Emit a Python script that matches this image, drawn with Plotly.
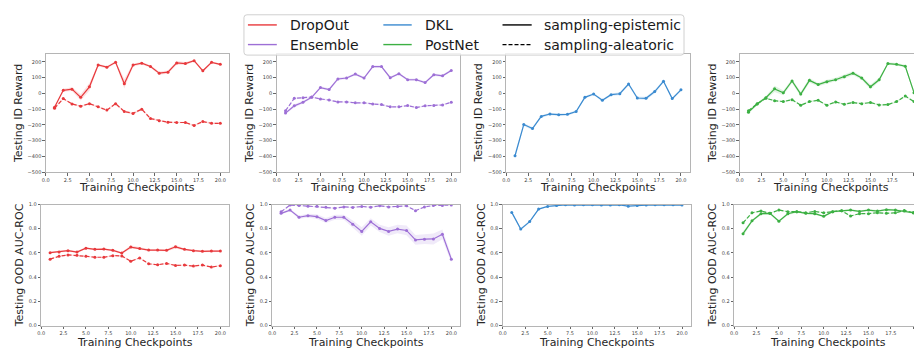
import plotly.graph_objects as go

W, H = 914, 352

checkpoints = list(range(1, 21))

# ---- Testing ID Reward ----
dropout_id_epistemic = [-88, 20, 27, -25, 42, 181, 167, 198, 62, 181, 192, 171, 129, 135, 194, 190, 208, 144, 198, 185]
dropout_id_epistemic_sd = [8, 10, 12, 20, 25, 8, 8, 8, 30, 10, 8, 8, 10, 10, 12, 10, 6, 8, 6, 6]
dropout_id_aleatoric = [-94, -33, -67, -81, -65, -85, -106, -65, -115, -127, -100, -160, -173, -183, -185, -185, -204, -179, -190, -190]
dropout_id_aleatoric_sd = [5, 5, 5, 5, 5, 5, 5, 5, 5, 8, 5, 5, 5, 5, 5, 5, 5, 5, 5, 5]

ensemble_id_epistemic = [-125, -79, -56, -25, 37, 25, 92, 98, 123, 98, 171, 171, 100, 125, 87, 87, 69, 119, 112, 146]
ensemble_id_epistemic_sd = [8, 10, 10, 8, 8, 8, 10, 8, 8, 8, 8, 8, 8, 8, 8, 8, 8, 8, 8, 8]
ensemble_id_aleatoric = [-110, -31, -27, -23, -35, -42, -54, -54, -60, -60, -67, -71, -85, -85, -77, -90, -79, -77, -73, -56]
ensemble_id_aleatoric_sd = [5, 5, 5, 5, 5, 5, 5, 5, 5, 5, 5, 5, 5, 5, 5, 5, 5, 5, 5, 5]

dkl_id_epistemic = [-396, -198, -223, -146, -131, -135, -133, -115, -25, -4, -44, -8, -2, 60, -29, -31, 12, 77, -33, 23]
dkl_id_epistemic_sd = [20, 10, 10, 8, 8, 8, 8, 8, 8, 8, 8, 8, 10, 10, 10, 10, 12, 8, 8, 8]

postnet_id_epistemic = [-119, -67, -27, 29, 4, 79, -4, 83, 56, 75, 87, 106, 129, 98, 42, 87, 190, 185, 173, 5]
postnet_id_epistemic_sd = [8, 8, 10, 20, 15, 12, 15, 15, 10, 12, 12, 12, 12, 12, 15, 12, 8, 8, 10, 10]
postnet_id_aleatoric = [-110, -65, -31, -46, -52, -40, -75, -52, -44, -75, -54, -69, -58, -65, -58, -73, -71, -52, -17, -52]
postnet_id_aleatoric_sd = [5, 5, 5, 5, 5, 5, 5, 5, 5, 5, 5, 5, 5, 5, 5, 5, 5, 5, 5, 5]

# ---- Testing OOD AUC-ROC ----
dropout_ood_epistemic = [0.603, 0.608, 0.619, 0.608, 0.640, 0.630, 0.632, 0.622, 0.600, 0.649, 0.638, 0.624, 0.624, 0.622, 0.651, 0.630, 0.619, 0.614, 0.616, 0.616]
dropout_ood_epistemic_sd = [0.008, 0.008, 0.008, 0.008, 0.008, 0.008, 0.008, 0.008, 0.008, 0.015, 0.008, 0.008, 0.008, 0.008, 0.015, 0.008, 0.008, 0.008, 0.008, 0.008]
dropout_ood_aleatoric = [0.549, 0.573, 0.584, 0.581, 0.573, 0.565, 0.565, 0.578, 0.576, 0.532, 0.559, 0.511, 0.503, 0.514, 0.497, 0.500, 0.492, 0.500, 0.484, 0.495]
dropout_ood_aleatoric_sd = [0.005, 0.005, 0.005, 0.005, 0.005, 0.005, 0.005, 0.005, 0.005, 0.005, 0.005, 0.005, 0.005, 0.005, 0.005, 0.005, 0.005, 0.005, 0.005, 0.005]

ensemble_ood_epistemic = [0.927, 0.954, 0.895, 0.908, 0.900, 0.868, 0.895, 0.895, 0.838, 0.778, 0.857, 0.803, 0.778, 0.797, 0.786, 0.708, 0.714, 0.716, 0.754, 0.549]
ensemble_ood_epistemic_sd = [0.01, 0.01, 0.015, 0.015, 0.02, 0.02, 0.02, 0.02, 0.03, 0.035, 0.03, 0.03, 0.035, 0.035, 0.04, 0.04, 0.04, 0.045, 0.04, 0.03]
ensemble_ood_aleatoric = [0.940, 0.995, 0.992, 0.986, 0.986, 0.978, 0.970, 0.980, 0.976, 0.984, 0.978, 0.989, 0.980, 0.984, 0.989, 0.949, 0.980, 0.992, 0.992, 0.995]
ensemble_ood_aleatoric_sd = [0.005, 0.004, 0.004, 0.004, 0.004, 0.004, 0.004, 0.004, 0.004, 0.004, 0.004, 0.004, 0.004, 0.004, 0.004, 0.006, 0.004, 0.004, 0.004, 0.004]

dkl_ood_epistemic = [0.935, 0.797, 0.859, 0.962, 0.984, 0.992, 0.997, 0.995, 0.997, 0.997, 0.995, 0.995, 0.997, 0.986, 0.992, 0.995, 0.997, 0.997, 0.997, 0.995]
dkl_ood_epistemic_sd = [0.01, 0.012, 0.01, 0.006, 0.004, 0.003, 0.002, 0.002, 0.002, 0.002, 0.002, 0.002, 0.002, 0.004, 0.003, 0.002, 0.002, 0.002, 0.002, 0.002]

postnet_ood_epistemic = [0.759, 0.865, 0.924, 0.927, 0.862, 0.924, 0.941, 0.927, 0.924, 0.903, 0.941, 0.949, 0.954, 0.943, 0.954, 0.946, 0.957, 0.954, 0.946, 0.932]
postnet_ood_epistemic_sd = [0.02, 0.012, 0.01, 0.01, 0.01, 0.01, 0.008, 0.008, 0.008, 0.008, 0.008, 0.008, 0.008, 0.008, 0.008, 0.008, 0.008, 0.008, 0.008, 0.008]
postnet_ood_aleatoric = [0.849, 0.932, 0.946, 0.927, 0.954, 0.941, 0.941, 0.932, 0.943, 0.932, 0.941, 0.949, 0.905, 0.924, 0.924, 0.932, 0.927, 0.932, 0.951, 0.932]
postnet_ood_aleatoric_sd = [0.006, 0.005, 0.005, 0.005, 0.005, 0.005, 0.005, 0.005, 0.005, 0.005, 0.005, 0.005, 0.005, 0.005, 0.005, 0.005, 0.005, 0.005, 0.005, 0.005]

method_names = ["DropOut", "Ensemble", "DKL", "PostNet"]
method_colors = {"DropOut": "#e8393c", "Ensemble": "#9d6fd6", "DKL": "#3a8ad0", "PostNet": "#3cb043"}
band_colors = {"DropOut": "rgba(232,57,60,0.15)", "Ensemble": "rgba(157,111,214,0.15)",
               "DKL": "rgba(58,138,208,0.15)", "PostNet": "rgba(60,176,67,0.15)"}
style_names = ["sampling-epistemic", "sampling-aleatoric"]
y_titles = ["Testing ID Reward", "Testing OOD AUC-ROC"]
x_title = "Training Checkpoints"

panels = [
    ("DropOut", [(dropout_id_epistemic, dropout_id_epistemic_sd, "solid"), (dropout_id_aleatoric, dropout_id_aleatoric_sd, "dash")]),
    ("Ensemble", [(ensemble_id_epistemic, ensemble_id_epistemic_sd, "solid"), (ensemble_id_aleatoric, ensemble_id_aleatoric_sd, "dash")]),
    ("DKL", [(dkl_id_epistemic, dkl_id_epistemic_sd, "solid")]),
    ("PostNet", [(postnet_id_epistemic, postnet_id_epistemic_sd, "solid"), (postnet_id_aleatoric, postnet_id_aleatoric_sd, "dash")]),
    ("DropOut", [(dropout_ood_epistemic, dropout_ood_epistemic_sd, "solid"), (dropout_ood_aleatoric, dropout_ood_aleatoric_sd, "dash")]),
    ("Ensemble", [(ensemble_ood_epistemic, ensemble_ood_epistemic_sd, "solid"), (ensemble_ood_aleatoric, ensemble_ood_aleatoric_sd, "dash")]),
    ("DKL", [(dkl_ood_epistemic, dkl_ood_epistemic_sd, "solid")]),
    ("PostNet", [(postnet_ood_epistemic, postnet_ood_epistemic_sd, "solid"), (postnet_ood_aleatoric, postnet_ood_aleatoric_sd, "dash")]),
]

# layout geometry in pixels (left, right) / (top, bottom)
x_px = [(42, 226), (274, 458), (504.5, 688.7), (739, 914),
        (37.3, 226.3), (269.3, 458.3), (501, 690), (733.3, 914)]
x_ranges = [[0, 21], [0, 21], [0, 21], [0, 20.0],
            [0, 21], [0, 21], [0, 21], [0, 20.08]]
y_px = [(52, 172), (205, 328.3)]
y_title_off = [28, 22]
x_title_y = [188, 345]

FONT = "DejaVu Sans"
DASH = "4px,2px"

fig = go.Figure()


def px2x(v):
    return v / W


def px2y(v):
    return 1 - v / H


for i, (method, series) in enumerate(panels):
    k = i + 1
    xa = "x" if k == 1 else f"x{k}"
    ya = "y" if k == 1 else f"y{k}"
    color = method_colors[method]
    for vals, sd, dash in series:
        upper = [v + s for v, s in zip(vals, sd)]
        lower = [v - s for v, s in zip(vals, sd)]
        fig.add_trace(go.Scatter(x=checkpoints, y=upper, mode="lines", line=dict(width=0),
                                 hoverinfo="skip", showlegend=False, xaxis=xa, yaxis=ya))
        fig.add_trace(go.Scatter(x=checkpoints, y=lower, mode="lines", line=dict(width=0),
                                 fill="tonexty", fillcolor=band_colors[method],
                                 hoverinfo="skip", showlegend=False, xaxis=xa, yaxis=ya))
    for vals, sd, dash in series:
        fig.add_trace(go.Scatter(x=checkpoints, y=vals, mode="lines+markers",
                                 line=dict(color=color, width=1.2, dash=("solid" if dash == "solid" else DASH)),
                                 marker=dict(color=color, size=3),
                                 showlegend=False, xaxis=xa, yaxis=ya))

layout = dict(width=W, height=H, margin=dict(l=0, r=0, t=0, b=0),
              paper_bgcolor="white", plot_bgcolor="white",
              font=dict(family=FONT, color="#262626"), showlegend=False)

axis_common = dict(showgrid=False, zeroline=False, showline=True, linecolor="#b5b5b5", linewidth=1,
                   ticks="outside", ticklen=2.5, tickwidth=0.8, tickcolor="#666",
                   tickfont=dict(size=5, color="#444", family=FONT))

annotations = []
for i in range(8):
    k = i + 1
    row = 0 if i < 4 else 1
    xl, xr = x_px[i]
    yt, yb = y_px[row]
    xname = "xaxis" if k == 1 else f"xaxis{k}"
    yname = "yaxis" if k == 1 else f"yaxis{k}"
    anchor_x = "x" if k == 1 else f"x{k}"
    anchor_y = "y" if k == 1 else f"y{k}"
    layout[xname] = dict(axis_common, domain=[px2x(xl), min(1.0, px2x(xr))], range=x_ranges[i],
                         anchor=anchor_y, tick0=0, dtick=2.5, tickformat=".1f", mirror=True)
    if row == 0:
        yopts = dict(range=[-500, 250], tick0=-500, dtick=100, tickformat="d")
    else:
        yopts = dict(range=[0, 1.0], tick0=0, dtick=0.2, tickformat=".1f")
    layout[yname] = dict(axis_common, domain=[px2y(yb), px2y(yt)], anchor=anchor_x,
                         mirror=(i % 4 != 3), **yopts)
    annotations.append(dict(x=px2x(xl - y_title_off[row]), y=px2y((yt + yb) / 2), xref="paper", yref="paper",
                            text=y_titles[row], textangle=-90, showarrow=False,
                            xanchor="center", yanchor="middle",
                            font=dict(size=11, family=FONT, color="#262626")))
    annotations.append(dict(x=px2x((xl + (xl + (xr - xl) if i % 4 != 3 else xl + (x_px[i - 1][1] - x_px[i - 1][0]))) / 2),
                            y=px2y(x_title_y[row]), xref="paper", yref="paper",
                            text=x_title, showarrow=False, xanchor="center", yanchor="middle",
                            font=dict(size=11, family=FONT, color="#262626")))

# ---- manual legend ----
shapes = []
lx0, lx1, ly0, ly1, r = 241, 683, 12, 53, 3
path = (f"M {px2x(lx0 + r)} {px2y(ly0)} L {px2x(lx1 - r)} {px2y(ly0)} Q {px2x(lx1)} {px2y(ly0)} {px2x(lx1)} {px2y(ly0 + r)} "
        f"L {px2x(lx1)} {px2y(ly1 - r)} Q {px2x(lx1)} {px2y(ly1)} {px2x(lx1 - r)} {px2y(ly1)} "
        f"L {px2x(lx0 + r)} {px2y(ly1)} Q {px2x(lx0)} {px2y(ly1)} {px2x(lx0)} {px2y(ly1 - r)} "
        f"L {px2x(lx0)} {px2y(ly0 + r)} Q {px2x(lx0)} {px2y(ly0)} {px2x(lx0 + r)} {px2y(ly0)} Z")
shapes.append(dict(type="path", path=path, xref="paper", yref="paper", layer="above",
                   fillcolor="rgba(255,255,255,0.8)", line=dict(color="#d0d0d0", width=1)))

legend_items = [
    ("DropOut", method_colors["DropOut"], "solid", 0, 0),
    ("Ensemble", method_colors["Ensemble"], "solid", 0, 1),
    ("DKL", method_colors["DKL"], "solid", 1, 0),
    ("PostNet", method_colors["PostNet"], "solid", 1, 1),
    (style_names[0], "#000000", "solid", 2, 0),
    (style_names[1], "#000000", DASH, 2, 1),
]
col_line_x = [(245, 274), (381, 409.5), (500.7, 530)]
col_text_x = [285, 421, 540.7]
row_y = [22.3, 42.3]
for name, col, dash, c, rr in legend_items:
    a, b = col_line_x[c]
    yy = row_y[rr]
    shapes.append(dict(type="line", xref="paper", yref="paper", layer="above",
                       x0=px2x(a), x1=px2x(b), y0=px2y(yy), y1=px2y(yy),
                       line=dict(color=col, width=1.4, dash=dash)))
    annotations.append(dict(x=px2x(col_text_x[c]), y=px2y(yy), xref="paper", yref="paper", text=name,
                            showarrow=False, xanchor="left", yanchor="middle",
                            font=dict(size=14, family=FONT, color="#1a1a1a")))

layout["shapes"] = shapes
layout["annotations"] = annotations
fig.update_layout(**layout)
fig.write_html("out.html")
